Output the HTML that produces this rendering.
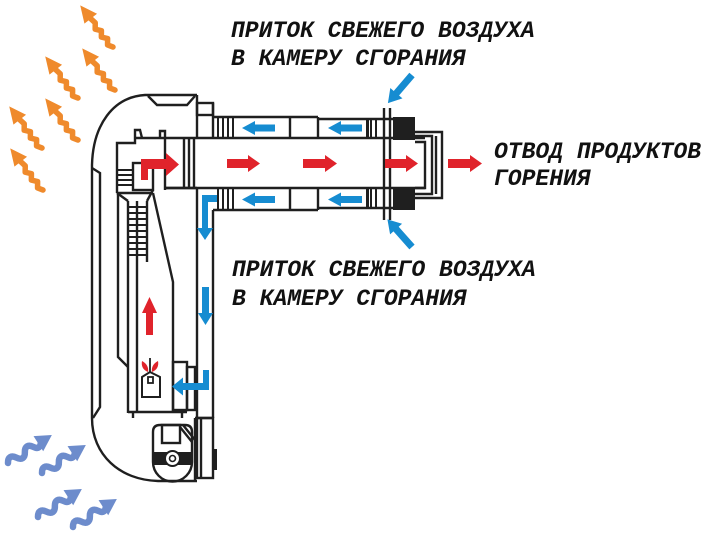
<!DOCTYPE html>
<html>
<head>
<meta charset="utf-8">
<style>
  html,body{margin:0;padding:0;background:#fff;}
  svg{display:block;}
  .lbl{font-family:"Liberation Mono","DejaVu Sans Mono",monospace;font-weight:bold;font-style:italic;font-size:23px;fill:#111;}
</style>
</head>
<body>
<svg width="709" height="533" viewBox="0 0 709 533" xmlns="http://www.w3.org/2000/svg">
  <rect width="709" height="533" fill="#fff"/>

  <!-- Orange heat waves -->
  <g fill="#ef8a2c" stroke="#ef8a2c">
    <g transform="translate(113,47) rotate(-128.2)">
      <path d="M0,0 l5,-3 l5,4 l5,-4 l5,4 l5,-4 l5,4 l6,-1" fill="none" stroke-width="5.5" stroke-linejoin="round" stroke-linecap="round"/>
      <polygon points="36,-8 53,0 36,8" stroke="none"/>
    </g>
    <g transform="translate(115,90) rotate(-128.2)">
      <path d="M0,0 l5,-3 l5,4 l5,-4 l5,4 l5,-4 l5,4 l6,-1" fill="none" stroke-width="5.5" stroke-linejoin="round" stroke-linecap="round"/>
      <polygon points="36,-8 53,0 36,8" stroke="none"/>
    </g>
    <g transform="translate(78,98) rotate(-128.2)">
      <path d="M0,0 l5,-3 l5,4 l5,-4 l5,4 l5,-4 l5,4 l6,-1" fill="none" stroke-width="5.5" stroke-linejoin="round" stroke-linecap="round"/>
      <polygon points="36,-8 53,0 36,8" stroke="none"/>
    </g>
    <g transform="translate(78,140) rotate(-128.2)">
      <path d="M0,0 l5,-3 l5,4 l5,-4 l5,4 l5,-4 l5,4 l6,-1" fill="none" stroke-width="5.5" stroke-linejoin="round" stroke-linecap="round"/>
      <polygon points="36,-8 53,0 36,8" stroke="none"/>
    </g>
    <g transform="translate(42,148) rotate(-128.2)">
      <path d="M0,0 l5,-3 l5,4 l5,-4 l5,4 l5,-4 l5,4 l6,-1" fill="none" stroke-width="5.5" stroke-linejoin="round" stroke-linecap="round"/>
      <polygon points="36,-8 53,0 36,8" stroke="none"/>
    </g>
    <g transform="translate(43,190) rotate(-128.2)">
      <path d="M0,0 l5,-3 l5,4 l5,-4 l5,4 l5,-4 l5,4 l6,-1" fill="none" stroke-width="5.5" stroke-linejoin="round" stroke-linecap="round"/>
      <polygon points="36,-8 53,0 36,8" stroke="none"/>
    </g>
  </g>

  <!-- Blue cold-air waves -->
  <g fill="#6d8ccc" stroke="#6d8ccc">
    <g transform="translate(8,463) rotate(-32.5)">
      <path d="M0,0 c3,-5 7,-5 10,0 s7,5 10,0 s7,-5 10,0 s6,4 9,0" fill="none" stroke-width="6.5" stroke-linejoin="round" stroke-linecap="round"/>
      <polygon points="36,-9 52,0 36,9" stroke="none"/>
    </g>
    <g transform="translate(42,473) rotate(-32.5)">
      <path d="M0,0 c3,-5 7,-5 10,0 s7,5 10,0 s7,-5 10,0 s6,4 9,0" fill="none" stroke-width="6.5" stroke-linejoin="round" stroke-linecap="round"/>
      <polygon points="36,-9 52,0 36,9" stroke="none"/>
    </g>
    <g transform="translate(38,517) rotate(-32.5)">
      <path d="M0,0 c3,-5 7,-5 10,0 s7,5 10,0 s7,-5 10,0 s6,4 9,0" fill="none" stroke-width="6.5" stroke-linejoin="round" stroke-linecap="round"/>
      <polygon points="36,-9 52,0 36,9" stroke="none"/>
    </g>
    <g transform="translate(73,527) rotate(-32.5)">
      <path d="M0,0 c3,-5 7,-5 10,0 s7,5 10,0 s7,-5 10,0 s6,4 9,0" fill="none" stroke-width="6.5" stroke-linejoin="round" stroke-linecap="round"/>
      <polygon points="36,-9 52,0 36,9" stroke="none"/>
    </g>
  </g>

  <!-- Heater body and flue line drawing -->
  <g stroke="#1f1f1f" stroke-width="2.4" fill="none" stroke-linejoin="miter">
    <path d="M197,95 L145,95 C113,97 93,125 92,165 L92,418 C92,455 120,480 158,481 L197,481"/>
    <path d="M92,168 L100,173 L100,407 L93,418"/>
    <polyline points="148,96 157,105 187,105 195,96"/>
    <line x1="197" y1="95" x2="197" y2="138"/>
    <line x1="197" y1="188" x2="197" y2="418"/>
    <rect x="197" y="103" width="16" height="12"/>
    <line x1="213" y1="103" x2="213" y2="138"/>
    <line x1="213" y1="210" x2="213" y2="418"/>
    <line x1="195" y1="418" x2="213" y2="418"/>

    <line x1="135" y1="138" x2="425" y2="138"/>
    <line x1="165" y1="188" x2="425" y2="188"/>
    <line x1="213" y1="117" x2="318" y2="117"/>
    <line x1="318" y1="119" x2="393" y2="119"/>
    <line x1="213" y1="210" x2="318" y2="210"/>
    <line x1="318" y1="208" x2="393" y2="208"/>
    <g stroke-width="2">
      <line x1="218" y1="117" x2="218" y2="138"/>
      <line x1="223" y1="117" x2="223" y2="138"/>
      <line x1="228" y1="117" x2="228" y2="138"/>
      <line x1="233" y1="117" x2="233" y2="138"/>
      <line x1="218" y1="188" x2="218" y2="210"/>
      <line x1="223" y1="188" x2="223" y2="210"/>
      <line x1="228" y1="188" x2="228" y2="210"/>
      <line x1="233" y1="188" x2="233" y2="210"/>
      <line x1="371" y1="119" x2="371" y2="138"/>
      <line x1="376" y1="119" x2="376" y2="138"/>
      <line x1="371" y1="188" x2="371" y2="208"/>
      <line x1="376" y1="188" x2="376" y2="208"/>
    </g>
    <line x1="290" y1="117" x2="290" y2="138"/>
    <line x1="318" y1="117" x2="318" y2="138"/>
    <line x1="290" y1="188" x2="290" y2="210"/>
    <line x1="318" y1="188" x2="318" y2="210"/>
    <line x1="384" y1="108" x2="384" y2="220"/>
    <line x1="390" y1="108" x2="390" y2="220"/>
    <path d="M415,132 L442,132 L442,198 L415,198"/>
    <path d="M415,136 L432,136 L432,194 L415,194"/>
    <line x1="436" y1="136" x2="436" y2="194"/>
    <path d="M415,142 L425,142 L425,188 L415,188"/>

    <path d="M117,193 L117,143 L135,143 L135,130 L140,130 L142,138"/>
    <path d="M160,138 L160,131 L165,131 L165,190"/>
    <line x1="165" y1="188" x2="197" y2="188"/>
    <line x1="184" y1="138" x2="184" y2="188"/>
    <line x1="189" y1="138" x2="189" y2="188"/>
    <line x1="194" y1="138" x2="194" y2="188"/>
    <rect x="133" y="163" width="20" height="27"/>
    <g stroke-width="2">
      <line x1="117" y1="170" x2="133" y2="170"/>
      <line x1="117" y1="175" x2="133" y2="175"/>
      <line x1="117" y1="180" x2="133" y2="180"/>
      <line x1="117" y1="185" x2="133" y2="185"/>
    </g>
    <line x1="117" y1="193" x2="153" y2="193"/>
    <line x1="117" y1="193" x2="128" y2="201"/>
    <line x1="153" y1="190" x2="147" y2="201"/>

    <line x1="128" y1="201" x2="128" y2="413"/>
    <line x1="137" y1="201" x2="137" y2="413"/>
    <line x1="147" y1="201" x2="147" y2="262"/>
    <g stroke-width="2">
      <line x1="128" y1="207" x2="147" y2="207"/>
      <line x1="128" y1="213" x2="147" y2="213"/>
      <line x1="128" y1="219" x2="147" y2="219"/>
      <line x1="128" y1="225" x2="147" y2="225"/>
      <line x1="128" y1="231" x2="147" y2="231"/>
      <line x1="128" y1="237" x2="147" y2="237"/>
      <line x1="128" y1="243" x2="147" y2="243"/>
      <line x1="128" y1="249" x2="147" y2="249"/>
      <line x1="128" y1="255" x2="147" y2="255"/>
    </g>
    <path d="M118,193 L118,357 L128,367"/>
    <path d="M153,193 L173,282 L173,413"/>

    <line x1="128" y1="412" x2="187" y2="412"/>
    <line x1="133" y1="412" x2="133" y2="418"/>
    <line x1="182" y1="412" x2="182" y2="418"/>
    <rect x="173" y="362" width="14" height="48"/>
    <rect x="187" y="367" width="8" height="43"/>
    <polygon points="142,377 150,372 160,377 160,397 142,397" stroke-width="2"/>
    <rect x="148" y="377" width="5" height="6" stroke-width="1.8"/>
    <line x1="150" y1="358" x2="150" y2="372" stroke-width="1.8"/>

    <path d="M153,432 Q153,425 160,425 L185,425 Q192,425 192,432 L192,462 A19.5,19.5 0 0 1 153,462 Z"/>
    <rect x="162" y="425" width="18" height="18"/>
    <line x1="180" y1="427" x2="192" y2="442"/>
    <line x1="183" y1="425" x2="195" y2="440"/>
    <line x1="195" y1="418" x2="195" y2="481"/>
    <rect x="197" y="418" width="16" height="60"/>
    <line x1="201" y1="418" x2="201" y2="478"/>
  </g>
  <g fill="#1f1f1f">
    <rect x="393" y="117" width="22" height="23"/>
    <rect x="393" y="187" width="22" height="23"/>
    <rect x="154" y="452" width="37" height="13"/>
    <rect x="213" y="449" width="4" height="21"/>
    <rect x="366" y="119" width="3" height="19"/>
    <rect x="366" y="188" width="3" height="20"/>
  </g>
  <circle cx="172.5" cy="458.5" r="7.5" fill="#fff" stroke="#1f1f1f" stroke-width="2"/>
  <circle cx="172.5" cy="458.5" r="3" fill="#fff" stroke="#1f1f1f" stroke-width="1.6"/>

  <!-- Red arrows (exhaust) -->
  <g fill="#e0232b">
    <polygon points="227,159 248,159 248,155 260,163.5 248,172 248,168 227,168"/>
    <polygon points="303,159 325,159 325,155 337,163.5 325,172 325,168 303,168"/>
    <polygon points="385,159 406,159 406,155 418,163.5 406,172 406,168 385,168"/>
    <polygon points="448,159 470,159 470,155 482,163.5 470,172 470,168 448,168"/>
    <path d="M141,180 L141,159 L166,159 L166,153 L179,164.5 L166,176 L166,169 L148,169 L148,180 Z"/>
    <polygon points="146,335 146,313 142,313 149.5,297 157,313 153,313 153,335"/>
    <path d="M148,372 C143,370 141,366 142,361 C146,363 149,367 148,372 Z"/>
    <path d="M152,372 C157,370 159,366 158,361 C154,363 151,367 152,372 Z"/>
  </g>

  <!-- Blue arrows (fresh air) -->
  <g fill="#168cd1">
    <polygon points="275,124.5 255,124.5 255,121 242,128 255,135 255,131.5 275,131.5"/>
    <polygon points="362,124.5 341,124.5 341,121 328,128 341,135 341,131.5 362,131.5"/>
    <polygon points="275,196 255,196 255,192.5 242,199.5 255,206.5 255,203 275,203"/>
    <polygon points="362,196 341,196 341,192.5 328,199.5 341,206.5 341,203 362,203"/>
    <path d="M217,195 L202,195 L202,228 L197,228 L205,240 L213,228 L208,228 L208,202 L217,202 Z"/>
    <polygon points="202,287 209,287 209,313 213,313 205.5,325 198,313 202,313"/>
    <path d="M203,370 L209,370 L209,390 L183,390 L183,395.5 L172,386.5 L183,377.5 L183,383 L203,383 Z"/>
    <g transform="translate(412,75) rotate(130.6)">
      <polygon points="0,-3.5 24,-3.5 24,-8 37,0 24,8 24,3.5 0,3.5"/>
    </g>
    <g transform="translate(412,247) rotate(-131.6)">
      <polygon points="0,-3.5 24,-3.5 24,-8 37,0 24,8 24,3.5 0,3.5"/>
    </g>
  </g>

  <!-- Labels -->
  <text class="lbl" x="231" y="37">ПРИТОК СВЕЖЕГО ВОЗДУХА</text>
  <text class="lbl" x="231" y="65">В КАМЕРУ СГОРАНИЯ</text>
  <text class="lbl" x="232" y="276">ПРИТОК СВЕЖЕГО ВОЗДУХА</text>
  <text class="lbl" x="232" y="305">В КАМЕРУ СГОРАНИЯ</text>
  <text class="lbl" x="494" y="158">ОТВОД ПРОДУКТОВ</text>
  <text class="lbl" x="494" y="185">ГОРЕНИЯ</text>
</svg>
</body>
</html>
